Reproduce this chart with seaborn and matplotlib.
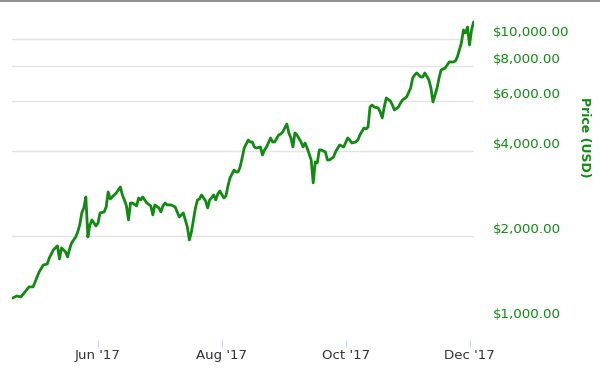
import pandas as pd
import seaborn as sns
import matplotlib
matplotlib.use("Agg")
from matplotlib import pyplot as plt
import matplotlib.dates as mdates
import matplotlib.ticker as mticker
import matplotlib.transforms as mtransforms

# price readings (USD, log axis)
dates = [
    "2017-04-20", "2017-04-22", "2017-04-24", "2017-04-26", "2017-04-28", "2017-04-30",
    "2017-05-02", "2017-05-03", "2017-05-05", "2017-05-07", "2017-05-08", "2017-05-10",
    "2017-05-12", "2017-05-13", "2017-05-14", "2017-05-16", "2017-05-17", "2017-05-18",
    "2017-05-19", "2017-05-21", "2017-05-22", "2017-05-23", "2017-05-24", "2017-05-25",
    "2017-05-26", "2017-05-27", "2017-05-28", "2017-05-29", "2017-05-31", "2017-06-01",
    "2017-06-02", "2017-06-04", "2017-06-05", "2017-06-06", "2017-06-07", "2017-06-08",
    "2017-06-10", "2017-06-12", "2017-06-13", "2017-06-14", "2017-06-15", "2017-06-16",
    "2017-06-17", "2017-06-18", "2017-06-20", "2017-06-21", "2017-06-22", "2017-06-23",
    "2017-06-25", "2017-06-27", "2017-06-28", "2017-06-29", "2017-07-01", "2017-07-02",
    "2017-07-03", "2017-07-04", "2017-07-05", "2017-07-07", "2017-07-09", "2017-07-10",
    "2017-07-11", "2017-07-13", "2017-07-14", "2017-07-15", "2017-07-16", "2017-07-17",
    "2017-07-18", "2017-07-19", "2017-07-20", "2017-07-21", "2017-07-22", "2017-07-24",
    "2017-07-25", "2017-07-26", "2017-07-28", "2017-07-29", "2017-07-30", "2017-07-31",
    "2017-08-02", "2017-08-03", "2017-08-04", "2017-08-05", "2017-08-07", "2017-08-08",
    "2017-08-09", "2017-08-10", "2017-08-11", "2017-08-12", "2017-08-14", "2017-08-15",
    "2017-08-16", "2017-08-17", "2017-08-18", "2017-08-20", "2017-08-21", "2017-08-22",
    "2017-08-23", "2017-08-25", "2017-08-26", "2017-08-27", "2017-08-29", "2017-08-30",
    "2017-08-31", "2017-09-02", "2017-09-03", "2017-09-04", "2017-09-05", "2017-09-06",
    "2017-09-07", "2017-09-09", "2017-09-10", "2017-09-11", "2017-09-12", "2017-09-14",
    "2017-09-15", "2017-09-16", "2017-09-17", "2017-09-18", "2017-09-19", "2017-09-21",
    "2017-09-22", "2017-09-23", "2017-09-25", "2017-09-26", "2017-09-28", "2017-09-30",
    "2017-10-02", "2017-10-03", "2017-10-04", "2017-10-06", "2017-10-07", "2017-10-08",
    "2017-10-10", "2017-10-11", "2017-10-12", "2017-10-13", "2017-10-14", "2017-10-15",
    "2017-10-17", "2017-10-18", "2017-10-19", "2017-10-20", "2017-10-21", "2017-10-23",
    "2017-10-24", "2017-10-25", "2017-10-27", "2017-10-28", "2017-10-29", "2017-10-31",
    "2017-11-02", "2017-11-03", "2017-11-04", "2017-11-05", "2017-11-07", "2017-11-08",
    "2017-11-09", "2017-11-11", "2017-11-12", "2017-11-13", "2017-11-14", "2017-11-15",
    "2017-11-16", "2017-11-17", "2017-11-19", "2017-11-20", "2017-11-21", "2017-11-23",
    "2017-11-24", "2017-11-25", "2017-11-26", "2017-11-27", "2017-11-28", "2017-11-29",
    "2017-11-30", "2017-12-01", "2017-12-02", "2017-12-03",
]
prices = [
    1206, 1226, 1216, 1267, 1320, 1320,
    1431, 1491, 1578, 1591, 1672, 1785,
    1845, 1658, 1814, 1755, 1686, 1799,
    1890, 1984, 2066, 2189, 2413, 2514,
    2749, 1984, 2189, 2279, 2170, 2224,
    2413, 2432, 2533, 2864, 2704, 2749,
    2840, 2982, 2793, 2683, 2555, 2279,
    2617, 2617, 2555, 2726, 2683, 2749,
    2617, 2555, 2374, 2576, 2514, 2432,
    2555, 2617, 2576, 2576, 2533, 2432,
    2336, 2413, 2279, 2151, 1936, 2066,
    2279, 2514, 2683, 2704, 2793, 2660,
    2514, 2683, 2793, 2683, 2817, 2886,
    2726, 2772, 3006, 3209, 3425, 3370,
    3370, 3511, 3778, 4098, 4374, 4304,
    4304, 4132, 4098, 4132, 3871, 4033,
    4132, 4448, 4304, 4304, 4558, 4595,
    4671, 4986, 4634, 4448, 4132, 4634,
    4558, 4304, 4132, 4269, 4098, 3717,
    3082, 3658, 3628, 4033, 4033, 3967,
    3717, 3717, 3808, 3967, 4201, 4132,
    4448, 4374, 4269, 4304, 4374, 4558,
    4826, 4786, 4864, 5728, 5820, 5728,
    5680, 5498, 5235, 5728, 6164, 6013,
    5820, 5587, 5728, 5917, 6063, 6212,
    6685, 7254, 7433, 7558, 7314, 7314,
    7558, 7136, 6685, 5964, 6315, 6685,
    7254, 7744, 7869, 8067, 8264, 8264,
    8332, 8610, 9114, 9651, 10733, 10468,
    10996, 9494, 10733, 11456,
]
price_ticks = [1000, 2000, 4000, 6000, 8000, 10000]
grid_values = [2000, 4000, 6000, 8000, 10000]
month_ticks = [6, 8, 10, 12]

GREEN = "#118a11"

df = pd.DataFrame({"date": pd.to_datetime(dates), "price": prices})

sns.set_style("white")
plt.rcParams["font.family"] = ["DejaVu Sans"]

fig = plt.figure(figsize=(6, 3.72), dpi=100)
ax = fig.add_axes([12 / 600, 32 / 372, 462 / 600, 330 / 372])

for v in grid_values:
    ax.axhline(v, color="#e3e3e3", linewidth=1, zorder=0)

sns.lineplot(data=df, x="date", y="price", ax=ax, color=GREEN, linewidth=2.0)

ax.set_yscale("log")
ax.set_ylim(856, 12630)
ax.set_xlim(df["date"].min() - pd.Timedelta(hours=9), df["date"].max() + pd.Timedelta(hours=5))

ax.yaxis.set_major_locator(mticker.FixedLocator(price_ticks))
ax.yaxis.set_minor_locator(mticker.NullLocator())
ax.yaxis.set_major_formatter(mticker.FuncFormatter(lambda v, _: f"${v:,.2f}"))
ax.yaxis.tick_right()
ax.tick_params(axis="y", length=0, pad=13.5, labelsize=9.6, labelcolor=GREEN)

ax.xaxis.set_major_locator(mdates.MonthLocator(bymonth=month_ticks))
ax.xaxis.set_major_formatter(mdates.DateFormatter("%b '%y"))
ax.tick_params(axis="x", length=5, width=0.8, color="#ccd6eb", pad=1.5,
               labelsize=9.6, labelcolor="#333333", bottom=True)

ax.set_xlabel("")
ax.set_ylabel("")
for s in ax.spines.values():
    s.set_visible(False)

# labels sit a bit above their grid lines
shift = mtransforms.ScaledTranslation(0, 8 / 100, fig.dpi_scale_trans)
for lab in ax.get_yticklabels():
    lab.set_transform(lab.get_transform() + shift)

fig.text(585 / 600, 1 - 137 / 372, "Price (USD)", rotation=270, ha="center", va="center",
         color=GREEN, fontsize=9, fontweight="bold")

fig.add_artist(plt.Line2D([0, 1], [1 - 0.8 / 372] * 2, transform=fig.transFigure,
                          color="#8c8c8c", linewidth=1.4))

fig.savefig("out.png", dpi=100, facecolor="white")
